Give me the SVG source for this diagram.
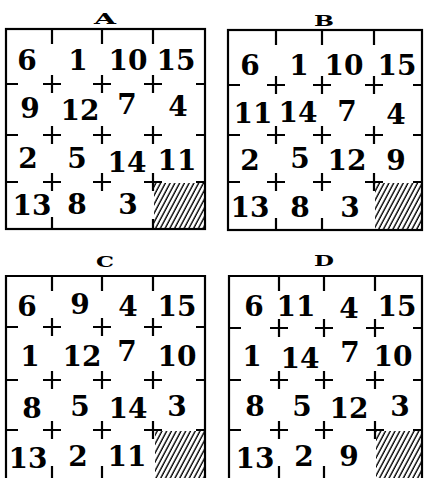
<svg xmlns="http://www.w3.org/2000/svg" width="425" height="478" viewBox="0 0 425 478">
<style>
.bg{fill:#fff}
.frame{fill:none;stroke:#000;stroke-width:2.2}
.tk{stroke:#000;stroke-width:2.2;fill:none;stroke-linecap:butt}
.n{font-family:"DejaVu Serif","Liberation Serif",serif;font-weight:bold;font-size:28px;text-anchor:middle;fill:#000}
.lb{font-family:"DejaVu Serif","Liberation Serif",serif;font-weight:bold;font-size:15px;text-anchor:middle;fill:#000}
.sh{fill:url(#hatch);stroke:none}
</style>
<defs>
<pattern id="hatch" patternUnits="userSpaceOnUse" width="4.2" height="10" patternTransform="rotate(28)">
<rect width="4.2" height="10" fill="#fff"/>
<line x1="1" y1="0" x2="1" y2="10" stroke="#000" stroke-width="1.4"/>
</pattern>
</defs>
<rect class="bg" width="425" height="478"/>

<g id="square-A">
<text class="lb" x="105" y="24" textLength="22" lengthAdjust="spacingAndGlyphs">A</text>
<rect class="sh" x="154" y="183" width="50" height="45"/>
<rect class="frame" x="6" y="29" width="199" height="200"/>
<path class="tk" d="M52 29v15M102 29v15M153 29v15M52 229v-12M153 229v-10M6 84h12M6 135h12M6 182h12M205 84h-9M205 135h-9M205 182h-9"/>
<path class="tk" d="M43 84h18M52 75v18M93 84h18M102 75v18M144 84h18M153 75v18M43 135h18M52 126v18M93 135h18M102 126v18M144 135h18M153 126v18M43 182h18M52 173v18M93 182h18M102 173v18M144 182h18M153 173v18"/>
<text class="n" x="27" y="70">6</text><text class="n" x="78" y="70">1</text><text class="n" x="128" y="70">10</text><text class="n" x="176" y="70">15</text>
<text class="n" x="30" y="118">9</text><text class="n" x="80" y="120">12</text><text class="n" x="127" y="114">7</text><text class="n" x="178" y="116">4</text>
<text class="n" x="28" y="168">2</text><text class="n" x="77" y="168">5</text><text class="n" x="127" y="172">14</text><text class="n" x="177" y="170">11</text>
<text class="n" x="32" y="215">13</text><text class="n" x="77" y="214">8</text><text class="n" x="128" y="214">3</text>
</g>

<g id="square-B">
<text class="lb" x="324" y="26" textLength="20" lengthAdjust="spacingAndGlyphs">B</text>
<rect class="sh" x="375" y="183" width="47" height="46"/>
<rect class="frame" x="228" y="30" width="194" height="200"/>
<path class="tk" d="M276 30v15M322 30v15M374 30v15M276 230v-12M322 230v-12M228 85h12M228 135h12M228 182h12M422 85h-9M422 135h-9M422 182h-9"/>
<path class="tk" d="M267 85h18M276 76v18M313 85h18M322 76v18M365 85h18M374 76v18M267 135h18M276 126v18M313 135h18M322 126v18M365 135h18M374 126v18M267 182h18M276 173v18M313 182h18M322 173v18M365 182h18M374 173v18"/>
<text class="n" x="250" y="75">6</text><text class="n" x="299" y="75">1</text><text class="n" x="344" y="75">10</text><text class="n" x="397" y="75">15</text>
<text class="n" x="253" y="123">11</text><text class="n" x="298" y="122">14</text><text class="n" x="347" y="121">7</text><text class="n" x="396" y="124">4</text>
<text class="n" x="250" y="170">2</text><text class="n" x="300" y="168">5</text><text class="n" x="347" y="170">12</text><text class="n" x="396" y="170">9</text>
<text class="n" x="250" y="217">13</text><text class="n" x="300" y="217">8</text><text class="n" x="350" y="217">3</text>
</g>

<g id="square-C">
<text class="lb" x="105" y="267" textLength="18" lengthAdjust="spacingAndGlyphs">C</text>
<rect class="sh" x="155" y="431" width="49" height="47"/>
<path class="frame" d="M6 479V276H205V479"/>
<path class="tk" d="M52 276v15M102 276v15M153 276v15M52 478v-12M102 478v-12M6 327h12M6 380h12M6 430h12M205 327h-9M205 380h-9M205 430h-9"/>
<path class="tk" d="M43 327h18M52 318v18M93 327h18M102 318v18M144 327h18M153 318v18M43 380h18M52 371v18M93 380h18M102 371v18M144 380h18M153 371v18M43 430h18M52 421v18M93 430h18M102 421v18M144 430h18M153 421v18"/>
<text class="n" x="27" y="316">6</text><text class="n" x="80" y="314">9</text><text class="n" x="128" y="316">4</text><text class="n" x="177" y="316">15</text>
<text class="n" x="30" y="366">1</text><text class="n" x="82" y="366">12</text><text class="n" x="127" y="361">7</text><text class="n" x="177" y="366">10</text>
<text class="n" x="32" y="418">8</text><text class="n" x="80" y="416">5</text><text class="n" x="128" y="418">14</text><text class="n" x="177" y="416">3</text>
<text class="n" x="28" y="468">13</text><text class="n" x="78" y="466">2</text><text class="n" x="127" y="466">11</text>
</g>

<g id="square-D">
<text class="lb" x="324" y="266" textLength="20" lengthAdjust="spacingAndGlyphs">D</text>
<rect class="sh" x="376" y="431" width="46" height="47"/>
<path class="frame" d="M229 479V276H422V479"/>
<path class="tk" d="M279 276v15M324 276v15M375 276v15M279 478v-12M324 478v-12M229 328h12M229 380h12M229 430h12M422 328h-9M422 380h-9M422 430h-9"/>
<path class="tk" d="M270 328h18M279 319v18M315 328h18M324 319v18M366 328h18M375 319v18M270 380h18M279 371v18M315 380h18M324 371v18M366 380h18M375 371v18M270 430h18M279 421v18M315 430h18M324 421v18M366 430h18M375 421v18"/>
<text class="n" x="254" y="316">6</text><text class="n" x="296" y="316">11</text><text class="n" x="349" y="318">4</text><text class="n" x="397" y="316">15</text>
<text class="n" x="252" y="366">1</text><text class="n" x="300" y="368">14</text><text class="n" x="350" y="362">7</text><text class="n" x="393" y="366">10</text>
<text class="n" x="255" y="416">8</text><text class="n" x="302" y="416">5</text><text class="n" x="349" y="418">12</text><text class="n" x="400" y="416">3</text>
<text class="n" x="255" y="468">13</text><text class="n" x="304" y="466">2</text><text class="n" x="349" y="466">9</text>
</g>
</svg>
